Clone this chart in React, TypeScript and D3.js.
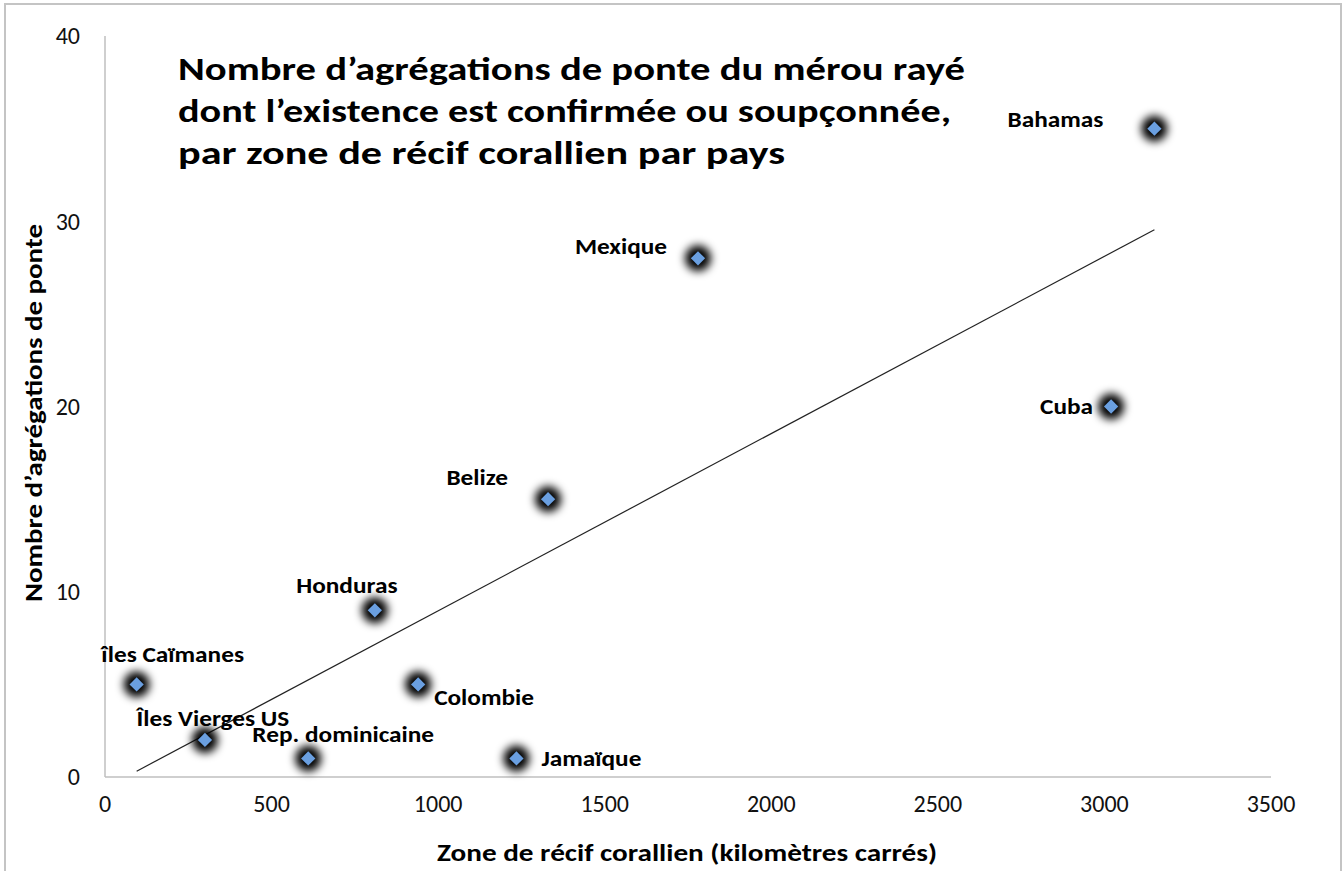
import React from 'react';
import * as d3 from 'd3';

// data
const countries = ['Bahamas', 'Mexique', 'Cuba', 'Belize', 'Honduras', 'îles Caïmanes', 'Colombie', 'Îles Vierges US', 'Rep. dominicaine', 'Jamaïque'];
const reefArea = [3150, 1780, 3020, 1330, 810, 95, 940, 300, 610, 1235];
const aggregations = [35, 28, 20, 15, 9, 5, 5, 2, 1, 1];
const xTicks = [0, 500, 1000, 1500, 2000, 2500, 3000, 3500];
const yTicks = [0, 10, 20, 30, 40];
const titleLines = [
  'Nombre d’agrégations de ponte du mérou rayé',
  'dont l’existence est confirmée ou soupçonnée,',
  'par zone de récif corallien par pays',
];

// where each label sits relative to its point (dx, dy, anchor)
const labelPlacement: [number, number, string][] = [
  [-51, -9, 'end'],
  [-31, -12, 'end'],
  [-18, 0, 'end'],
  [-40, -22, 'end'],
  [-28, -25, 'middle'],
  [36, -30, 'middle'],
  [16, 13, 'start'],
  [8, -22, 'middle'],
  [35, -24, 'middle'],
  [25, 0, 'start'],
];

const W = 1343;
const H = 871;
const FONT = 'Carlito, Calibri, Lato, sans-serif';
const LABEL_SX = 1.15;

const App: React.FC = () => {
  const x = d3.scaleLinear().domain([0, 3500]).range([105, 1271]);
  const y = d3.scaleLinear().domain([0, 40]).range([777, 36]);

  // linear trendline (least squares)
  const mx = d3.mean(reefArea)!;
  const my = d3.mean(aggregations)!;
  const sxy = d3.sum(reefArea, (v, i) => (v - mx) * (aggregations[i] - my));
  const sxx = d3.sum(reefArea, v => (v - mx) ** 2);
  const slope = sxy / sxx;
  const icpt = my - slope * mx;
  const [xmin, xmax] = d3.extent(reefArea) as [number, number];
  const trend = d3.line<number>().x(d => x(d)).y(d => y(icpt + slope * d))([xmin, xmax]);

  const diamond = d3.symbol().type(d3.symbolDiamond2).size(130)();
  const titleWidths = [787, 773, 607];

  return (
    <div style={{ position: 'absolute', left: 0, top: 0 }}>
      <svg width={W} height={H} style={{ display: 'block', background: '#fff' }} fontFamily={FONT}>
        <defs>
          <filter id="glow" x="-100%" y="-100%" width="300%" height="300%">
            <feGaussianBlur stdDeviation="4" />
          </filter>
        </defs>
        <rect x={5} y={4} width={1336} height={H + 10} fill="none" stroke="#c4c4c4" strokeWidth={2} />

        {/* axes */}
        <line x1={x(0)} x2={x(0)} y1={y(40)} y2={y(0)} stroke="#bfbfbf" strokeWidth={1.5} />
        <line x1={x(0)} x2={x(3500)} y1={y(0)} y2={y(0)} stroke="#bfbfbf" strokeWidth={1.5} />
        {yTicks.map(t => (
          <text key={t} x={x(0) - 25} y={y(t)} dy="0.35em" textAnchor="end" fontSize={24} fill="#111">{t}</text>
        ))}
        {xTicks.map(t => (
          <text key={t} x={x(t)} y={812} textAnchor="middle" fontSize={24} fill="#111">{t}</text>
        ))}

        <text x={687} y={861} textAnchor="middle" fontSize={24} fontWeight="bold" fill="#000"
          textLength={500} lengthAdjust="spacingAndGlyphs">
          Zone de récif corallien (kilomètres carrés)
        </text>
        <text transform="translate(42,413) rotate(-90)" textAnchor="middle" fontSize={24} fontWeight="bold" fill="#000"
          textLength={378} lengthAdjust="spacingAndGlyphs">
          Nombre d’agrégations de ponte
        </text>

        {titleLines.map((l, i) => (
          <text key={i} x={178} y={80 + i * 42} fontSize={32} fontWeight="bold" fill="#000"
            textLength={titleWidths[i]} lengthAdjust="spacingAndGlyphs">{l}</text>
        ))}

        <path d={trend ?? ''} stroke="#222" strokeWidth={1.2} fill="none" />

        {countries.map((c, i) => (
          <g key={c} transform={`translate(${x(reefArea[i])},${y(aggregations[i])})`}>
            <circle r={13} fill="#000" filter="url(#glow)" />
            <path d={diamond ?? ''} fill="#6a9fe0" />
          </g>
        ))}
        {countries.map((c, i) => (
          <text
            key={c + '-l'}
            transform={`translate(${x(reefArea[i]) + labelPlacement[i][0]},${y(aggregations[i]) + labelPlacement[i][1]}) scale(${LABEL_SX},1)`}
            textAnchor={labelPlacement[i][2] as any}
            dy="0.35em"
            fontSize={22}
            fontWeight="bold"
            fill="#000"
          >{c}</text>
        ))}
      </svg>
    </div>
  );
};

export default App;
